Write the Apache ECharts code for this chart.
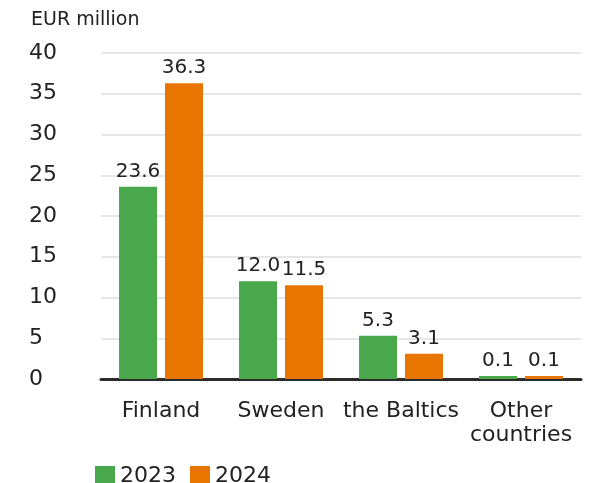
<!DOCTYPE html>
<html>
<head>
<meta charset="utf-8">
<script src="https://cdn.jsdelivr.net/npm/echarts@6/dist/echarts.min.js"></script>
<style>
  html, body { margin: 0; padding: 0; background: #fff; }
  #chart { width: 596px; height: 483px; }
</style>
</head>
<body>
<div id="chart"></div>
<script>
// data
var categories = ["Finland", "Sweden", "the Baltics", "Other\ncountries"];
var values2023 = [23.6, 12.0, 5.3, 0.1];
var values2024 = [36.3, 11.5, 3.1, 0.1];
var yTicks = [0, 40, 5]; // min, max, interval

var textColor = "#222";
var font = "DejaVu Sans";

var myChart = echarts.init(document.getElementById("chart"));

var labelStyle = {
  show: true,
  position: "top",
  distance: 5,
  color: textColor,
  fontSize: 20,
  fontFamily: font,
  formatter: function (p) {
    return p.value.toFixed(1);
  },
};

var option = {
  animation: false,
  textStyle: { fontFamily: font, color: textColor },
  title: {
    text: "EUR million",
    left: 26,
    top: 6,
    textStyle: { fontSize: 19, fontWeight: "normal", color: textColor, fontFamily: font },
  },
  legend: {
    left: 90,
    top: 460,
    itemWidth: 20,
    itemHeight: 20,
    itemGap: 14,
    icon: "rect",
    textStyle: { fontSize: 22, color: textColor, fontFamily: font },
    data: ["2023", "2024"],
  },
  grid: {
    left: 101,
    right: 15,
    top: 53,
    bottom: 104,
  },
  xAxis: {
    type: "category",
    data: categories,
    axisLine: { lineStyle: { color: "#2b2b2b", width: 3 } },
    axisTick: { show: false },
    axisLabel: {
      color: textColor,
      fontSize: 22,
      fontFamily: font,
      margin: 20,
      lineHeight: 24,
      interval: 0,
    },
  },
  yAxis: {
    type: "value",
    min: yTicks[0],
    max: yTicks[1],
    interval: yTicks[2],
    axisLine: { show: false },
    axisTick: { show: false },
    splitLine: { lineStyle: { color: "#e6e6e6", width: 2 } },
    axisLabel: {
      color: textColor,
      fontSize: 22,
      fontFamily: font,
      align: "left",
      margin: 72,
    },
  },
  series: [
    {
      name: "2023",
      type: "bar",
      data: values2023,
      barWidth: 38,
      barGap: "21%",
      barMinHeight: 3,
      itemStyle: { color: "#49a84c" },
      label: labelStyle,
    },
    {
      name: "2024",
      type: "bar",
      data: values2024,
      barWidth: 38,
      barMinHeight: 3,
      itemStyle: { color: "#e87500" },
      label: labelStyle,
    },
  ],
};

myChart.setOption(option);
</script>
</body>
</html>
